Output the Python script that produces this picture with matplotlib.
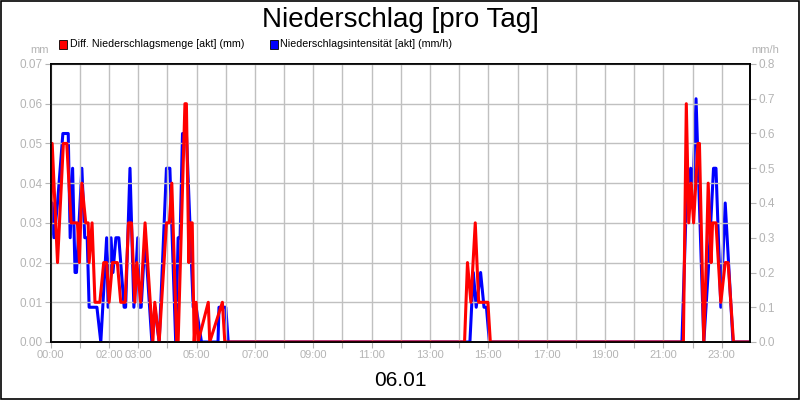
import matplotlib
matplotlib.use("Agg")
import matplotlib.pyplot as plt
from matplotlib.patches import Rectangle

plt.rcParams['font.family'] = ['Liberation Sans', 'DejaVu Sans']

# Diff. Niederschlagsmenge (mm), minutes after 00:00
red_min = [0, 3, 14, 26, 33, 42, 55, 59, 64, 72, 77, 79, 85, 91, 101, 109, 115, 120,
           127, 137, 144, 153, 160, 166, 173, 177, 185, 194, 210, 214, 223, 238, 244,
           249, 259, 262, 276, 279, 284, 286, 291, 295, 299, 303, 324, 327, 353, 358,
           851, 857, 864, 873, 880, 899, 904,
           1301, 1307, 1312, 1317, 1322, 1331, 1334, 1343, 1348, 1352, 1358, 1361,
           1368, 1378, 1387, 1393, 1404, 1435]
red_val = [0.03, 0.05, 0.02, 0.05, 0.05, 0.03, 0.03, 0.02, 0.04, 0.03, 0.03, 0.02, 0.03,
           0.01, 0.01, 0.02, 0.02, 0.01, 0.02, 0.02, 0.01, 0.01, 0.03, 0.03, 0.01, 0.02,
           0.01, 0.03, 0.0, 0.01, 0.0, 0.03, 0.03, 0.04, 0.0, 0.0, 0.06, 0.06, 0.02,
           0.03, 0.03, 0.0, 0.01, 0.0, 0.01, 0.0, 0.01, 0.0,
           0.0, 0.02, 0.01, 0.03, 0.01, 0.01, 0.0,
           0.0, 0.06, 0.03, 0.04, 0.03, 0.05, 0.05, 0.0, 0.02, 0.04, 0.02, 0.03,
           0.03, 0.01, 0.02, 0.02, 0.0, 0.0]

# Niederschlagsintensitaet (mm/h)
blue_min = [0, 3, 7, 14, 25, 36, 40, 45, 50, 53, 64, 70, 75, 79, 95, 103, 115, 118,
            124, 128, 134, 140, 151, 154, 163, 171, 179, 182, 186, 194, 208, 214, 223,
            238, 245, 257, 262, 266, 271, 279, 293, 299, 310, 344, 346, 360, 365,
            862, 869, 875, 884, 891, 896, 902,
            1298, 1307, 1316, 1320, 1327, 1343, 1352, 1363, 1368, 1378, 1387, 1403, 1435]
blue_val = [0.3, 0.4, 0.3, 0.4, 0.6, 0.6, 0.3, 0.5, 0.2, 0.2, 0.5, 0.3, 0.3, 0.1, 0.1,
            0.0, 0.3, 0.1, 0.3, 0.2, 0.3, 0.3, 0.1, 0.1, 0.5, 0.1, 0.3, 0.1, 0.1, 0.3,
            0.0, 0.1, 0.0, 0.5, 0.5, 0.0, 0.3, 0.3, 0.6, 0.6, 0.1, 0.1, 0.0, 0.0, 0.1,
            0.1, 0.0,
            0.0, 0.2, 0.1, 0.2, 0.1, 0.1, 0.0,
            0.0, 0.4, 0.5, 0.4, 0.7, 0.0, 0.2, 0.5, 0.5, 0.1, 0.4, 0.0, 0.0]

# hour labels shown on the time axis
hour_labels = {0: '00:00', 2: '02:00', 3: '03:00', 5: '05:00', 7: '07:00', 9: '09:00',
               11: '11:00', 13: '13:00', 15: '15:00', 17: '17:00', 19: '19:00',
               21: '21:00', 23: '23:00'}

grey = '#b4b4b4'

fig = plt.figure(figsize=(8, 4), dpi=100)
fig.patch.set_facecolor('white')
fig.patches.append(Rectangle((0.001, 0.002), 0.998, 0.996, transform=fig.transFigure,
                             fill=False, edgecolor='black', linewidth=1.2))

ax = fig.add_axes([0.0634, 0.145, 0.8746, 0.695])
ax2 = ax.twinx()

ax2.plot([m / 60 for m in blue_min], blue_val, color='#0000ff', linewidth=2.2)
ax.plot([m / 60 for m in red_min], red_val, color='#ff0000', linewidth=2.2)
ax.set_zorder(ax2.get_zorder() + 1)
ax.patch.set_visible(False)

ax.set_xlim(0, 23.98)
ax.set_ylim(0, 0.07)
ax2.set_ylim(0, 0.8)

ax.set_xticks(range(24))
ax.set_xticklabels([hour_labels.get(h, '') for h in range(24)])
ax.tick_params(axis='x', length=4, color=grey, pad=2, labelsize=8, labelcolor=grey)

ax.set_yticks([i * 0.01 for i in range(8)])
ax.set_yticklabels(['%.2f' % (i * 0.01) for i in range(8)])
ax.tick_params(axis='y', length=4, color=grey, labelcolor=grey, labelsize=8.5, pad=2)
ax2.set_yticks([i * 0.1 for i in range(9)])
ax2.set_yticklabels(['%.1f' % (i * 0.1) for i in range(9)])
ax2.tick_params(axis='y', length=4, color=grey, labelcolor=grey, labelsize=8.5, pad=2)

ax.grid(True, color='#c0c0c0', linewidth=1)
for a in (ax, ax2):
    for s in a.spines.values():
        s.set_color('black')
        s.set_linewidth(1.2)

fig.text(0.5, 0.95, 'Niederschlag [pro Tag]', ha='center', va='center', fontsize=20)
fig.text(0.5, 0.05, '06.01', ha='center', va='center', fontsize=15)
fig.text(0.05, 0.875, 'mm', ha='center', va='center', fontsize=8, color=grey)
fig.text(0.957, 0.875, 'mm/h', ha='center', va='center', fontsize=8, color=grey)

fig.patches.append(Rectangle((0.0735, 0.878), 0.0105, 0.021, transform=fig.transFigure,
                             facecolor='#ff0000', edgecolor='black', linewidth=0.6))
fig.text(0.087, 0.889, 'Diff. Niederschlagsmenge [akt] (mm)', va='center', fontsize=7.7)
fig.patches.append(Rectangle((0.337, 0.878), 0.0105, 0.021, transform=fig.transFigure,
                             facecolor='#0000ff', edgecolor='black', linewidth=0.6))
fig.text(0.35, 0.889, 'Niederschlagsintensität [akt] (mm/h)', va='center', fontsize=7.7)

fig.savefig('out.png', dpi=100)
